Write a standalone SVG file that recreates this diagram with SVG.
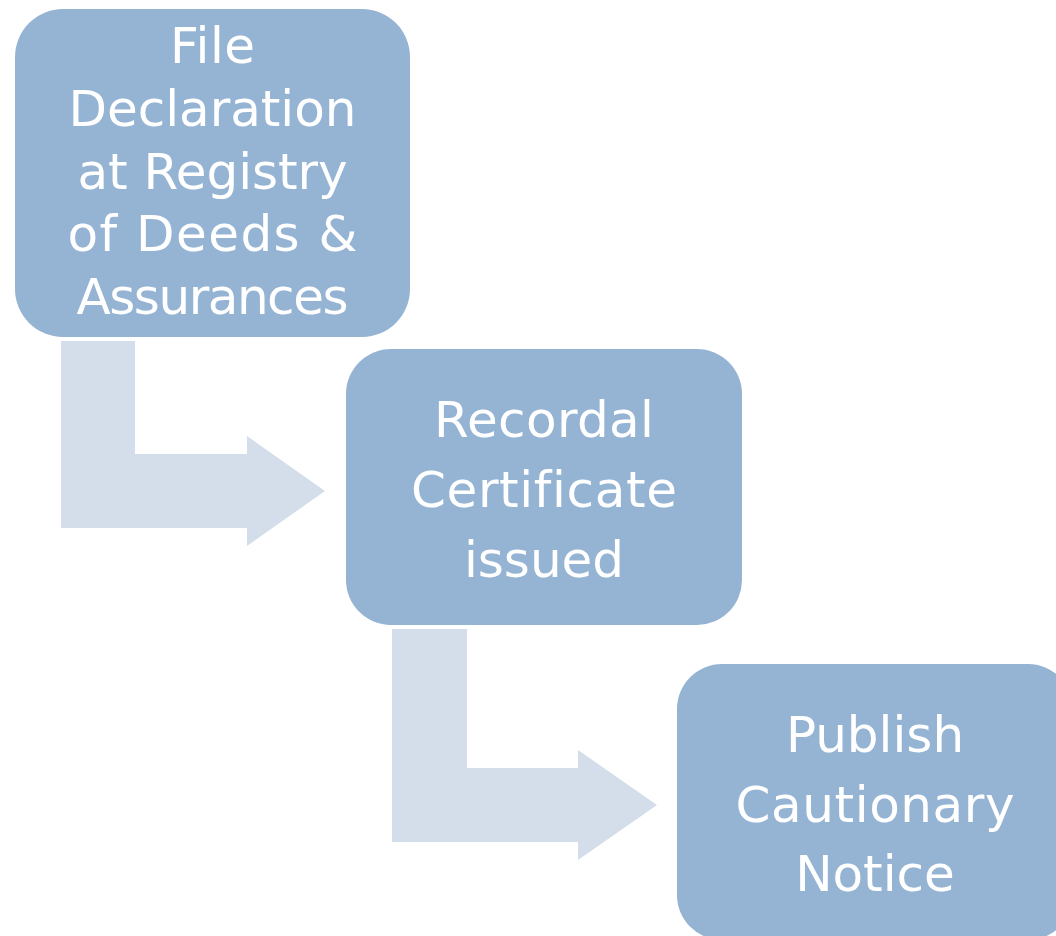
<svg xmlns="http://www.w3.org/2000/svg" width="1056" height="936" viewBox="0 0 1056 936">
<style>
.node{fill:#95B3D3}
.arrow{fill:#D4DEEA}
.lbl{font-family:"DejaVu Sans","Liberation Sans",sans-serif;font-size:50px;fill:#FFFFFF;text-anchor:middle;font-variant-ligatures:none}
</style>
<rect width="1056" height="936" fill="#FFFFFF"/>
<g id="connectors">
<path class="arrow" d="M61,341 H135 V454 H247 V436 L325,491 L247,546 V528 H61 Z"/>
<path class="arrow" d="M392,629 H467 V768 H578 V750 L657,805 L578,860 V842 H392 Z"/>
</g>
<g id="node1">
<rect class="node" x="15" y="9" width="395" height="328" rx="48" ry="48"/>
<text class="lbl" x="212.5" y="63" textLength="85" lengthAdjust="spacing">File</text>
<text class="lbl" x="212.5" y="126" textLength="288" lengthAdjust="spacing">Declaration</text>
<text class="lbl" x="212.5" y="189" textLength="270" lengthAdjust="spacing">at Registry</text>
<text class="lbl" x="212.5" y="251" textLength="290" lengthAdjust="spacing">of Deeds &amp;</text>
<text class="lbl" x="212.5" y="314" textLength="272" lengthAdjust="spacing">Assurances</text>
</g>
<g id="node2">
<rect class="node" x="346" y="349" width="396" height="276" rx="45" ry="45"/>
<text class="lbl" x="544" y="437" textLength="220" lengthAdjust="spacing">Recordal</text>
<text class="lbl" x="544" y="507" textLength="266" lengthAdjust="spacing">Certificate</text>
<text class="lbl" x="544" y="577">issued</text>
</g>
<g id="node3">
<rect class="node" x="677" y="664" width="396" height="276" rx="45" ry="45"/>
<text class="lbl" x="875" y="752">Publish</text>
<text class="lbl" x="875" y="822" textLength="279" lengthAdjust="spacing">Cautionary</text>
<text class="lbl" x="875" y="891">Notice</text>
</g>
</svg>
